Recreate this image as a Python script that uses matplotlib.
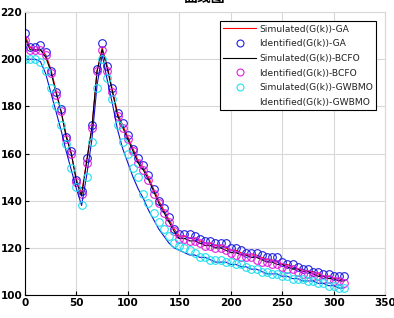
"""Simulated vs identified G(k) curves for GA, BCFO and GWBMO"""
import matplotlib
matplotlib.use('Agg')
import matplotlib.pyplot as plt
from matplotlib.lines import Line2D
import numpy as np

# sample index
k = np.arange(0, 315, 5)

# GA
ga_sim = [210, 205, 204, 204, 202, 196, 187, 178, 168, 160, 149, 143, 157, 171, 195, 205,
          197, 187, 177, 172, 167, 162, 157, 154, 150, 145, 140, 136, 132, 128, 125, 125,
          124, 124, 123, 122, 122, 121, 121, 120, 119, 119, 118, 117, 117, 117, 116, 115,
          115, 114, 113, 113, 112, 111, 111, 110, 110, 109, 108, 108, 107, 107, 106]
ga_id = [211, 205, 205, 206, 203, 195, 186, 179, 167, 161, 149, 144, 158, 172, 196, 207,
         197, 188, 177, 173, 168, 162, 158, 155, 151, 145, 140, 137, 133, 128, 126, 126,
         126, 125, 124, 123, 123, 122, 122, 122, 120, 120, 119, 118, 118, 118, 117, 116,
         116, 116, 114, 113, 113, 112, 111, 111, 110, 110, 109, 109, 108, 108, 108]

# BCFO
bcfo_sim = [209, 204, 204, 204, 201, 195, 186, 178, 167, 160, 148, 142, 157, 171, 195, 204,
            196, 186, 176, 171, 166, 161, 156, 153, 149, 144, 139, 135, 131, 127, 124, 124,
            123, 123, 122, 121, 121, 120, 120, 119, 118, 118, 117, 117, 116, 116, 115, 114,
            114, 113, 113, 112, 111, 111, 110, 110, 109, 108, 108, 107, 107, 106, 106]
bcfo_id = [208, 204, 204, 204, 202, 194, 185, 178, 166, 160, 148, 143, 156, 171, 195, 204,
           195, 186, 176, 171, 166, 161, 156, 153, 149, 143, 139, 135, 131, 127, 124, 124,
           123, 123, 122, 121, 121, 120, 120, 119, 118, 117, 116, 116, 116, 115, 114, 114,
           113, 113, 112, 111, 111, 110, 109, 109, 108, 108, 107, 107, 106, 106, 105]

# GWBMO
gwbmo_sim = [200, 200, 200, 199, 194, 186, 178, 170, 161, 153, 145, 138, 151, 166, 189, 202,
             191, 181, 170, 162, 156, 150, 145, 141, 136, 132, 128, 125, 122, 120, 119, 118,
             117, 117, 116, 116, 115, 114, 114, 114, 113, 113, 112, 112, 111, 111, 110, 109,
             109, 109, 108, 108, 107, 107, 106, 106, 106, 105, 105, 104, 104, 103, 103]
gwbmo_id = [200, 200, 200, 199, 195, 188, 180, 172, 164, 154, 146, 138, 150, 165, 188, 200,
            192, 183, 172, 165, 160, 154, 150, 143, 139, 135, 131, 128, 125, 122, 121, 120,
            119, 118, 116, 116, 115, 115, 115, 114, 114, 113, 113, 112, 111, 111, 110, 110,
            109, 109, 108, 108, 107, 107, 107, 106, 106, 105, 105, 104, 104, 103, 103]

legend_labels = ['Simulated(G(k))-GA', 'Identified(G(k))-GA',
                 'Simulated(G(k))-BCFO', 'Identified(G(k))-BCFO',
                 'Simulated(G(k))-GWBMO', 'Identified(G(k))-GWBMO']

fig = plt.figure(figsize=(3.94, 3.18), dpi=100)
ax = fig.add_axes([0.0635, 0.072, 0.914, 0.89])

lw = 0.8
ms = 5.5
ax.plot(k, ga_sim, color='red', lw=lw)
ax.plot(k, ga_id, 'o', color='#2020e0', mfc='none', ms=ms, mew=0.8)
ax.plot(k, bcfo_sim, color='black', lw=lw)
ax.plot(k, bcfo_id, 'o', color='#e020e0', mfc='none', ms=ms, mew=0.8)
ax.plot(k, gwbmo_sim, color='#1010d0', lw=lw)
ax.plot(k, gwbmo_id, 'o', color='#20e0f0', mfc='none', ms=ms, mew=0.8)

ax.set_xlim(0, 350)
ax.set_ylim(100, 220)
ax.set_xticks(np.arange(0, 351, 50))
ax.set_yticks(np.arange(100, 221, 20))
ax.grid(True, color='#d8d8d8', lw=0.8)
ax.set_axisbelow(True)
ax.tick_params(direction='in', length=3, width=0.8, pad=2, top=False, right=False)
for lab in ax.get_xticklabels() + ax.get_yticklabels():
    lab.set_fontfamily(['Liberation Sans Narrow', 'DejaVu Sans'])
    lab.set_fontweight('bold')
    lab.set_fontsize(7.5)
ax.spines['top'].set_color('#d8d8d8')
ax.spines['right'].set_color('#d8d8d8')
ax.spines['left'].set_linewidth(0.8)
ax.spines['bottom'].set_linewidth(0.8)

# legend handles as in the source figure (last entry shows no symbol)
handles = [
    Line2D([], [], color='red', lw=lw),
    Line2D([], [], ls='none', marker='o', color='#2020e0', mfc='none', ms=5, mew=0.8),
    Line2D([], [], color='black', lw=lw),
    Line2D([], [], ls='none', marker='o', color='#e020e0', mfc='none', ms=5, mew=0.8),
    Line2D([], [], ls='none', marker='o', color='#20e0f0', mfc='none', ms=5, mew=0.8),
    Line2D([], [], ls='none'),
]
leg = ax.legend(handles, legend_labels, loc='upper left', bbox_to_anchor=(0.542, 0.967),
                fontsize=6.6, frameon=True, fancybox=False, framealpha=1,
                edgecolor='black', handlelength=3.6, handletextpad=0.3,
                labelspacing=0.62, borderpad=0.35, borderaxespad=0)
leg.get_frame().set_linewidth(0.8)
for t in leg.get_texts():
    t.set_color('#222222')

# title is cut off at the top edge in the reference
fig.text(0.52, 0.984, '曲线图', ha='center', va='bottom', fontsize=10,
         fontweight='bold', family=['Noto Sans CJK SC', 'DejaVu Sans'])

fig.savefig('out.png', dpi=100)
